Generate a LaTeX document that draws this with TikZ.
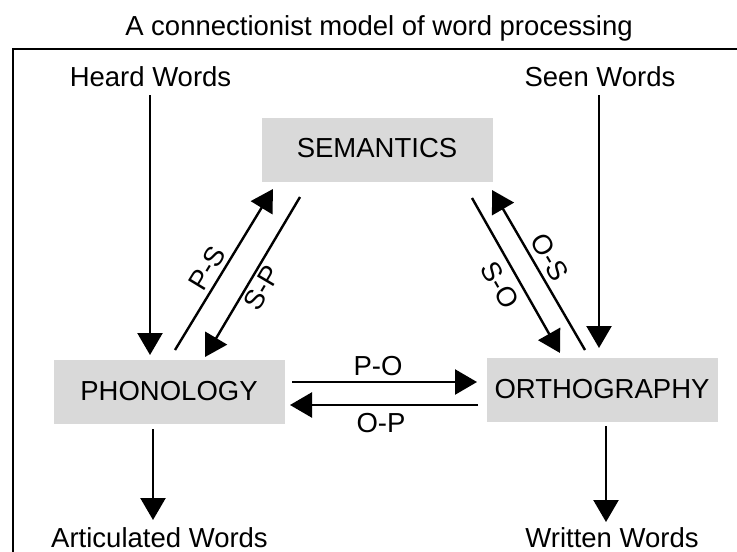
\documentclass[tikz,border=0pt]{standalone}
\usepackage{fontspec}
\setmainfont{Liberation Sans}
\usetikzlibrary{arrows.meta}
\definecolor{boxgray}{HTML}{D9D9D9}
\begin{document}
\begin{tikzpicture}[x=1pt,y=-1pt,
  txt/.style={font=\fontsize{27.5}{30}\selectfont, inner sep=0pt},
  lbl/.style={txt, anchor=base},
  box/.style={txt, fill=boxgray, minimum width=231pt, minimum height=64pt,
    text height=20pt, text depth=4pt},
  arr/.style={line width=2.4pt, -{Triangle[length=22pt,width=25pt]}},
  frame/.style={line width=2.4pt}]
\useasboundingbox (0,0) rectangle (737,552);
\fill[white] (0,0) rectangle (737,552);
% frame (left and top edges, cropped)
\draw[frame] (13,560) -- (13,49) -- (745,49);
% title
\node[lbl] (title) at (379,35) {A connectionist model of word processing};
% boxes
\node[box] (sem) at (377,149.5) {SEMANTICS};
\node[box] (pho) at (169,392) {PHONOLOGY};
\node[box] (ort) at (602,390) {ORTHOGRAPHY};
% outer labels
\node[lbl] (heard) at (150.5,86) {Heard Words};
\node[lbl] (seen) at (600,86) {Seen Words};
\node[lbl] (artic) at (159.5,547) {Articulated Words};
\node[lbl] (written) at (612,547) {Written Words};
% connector end points
\coordinate (hwA) at (150,95);  \coordinate (hwB) at (150,355);
\coordinate (swA) at (599,95);  \coordinate (swB) at (599,348);
\coordinate (psA) at (175,350); \coordinate (psB) at (273,189);
\coordinate (spA) at (300,197); \coordinate (spB) at (205,357);
\coordinate (soA) at (472,198); \coordinate (soB) at (560,353);
\coordinate (osA) at (585,350); \coordinate (osB) at (492,190);
\coordinate (poA) at (292,382); \coordinate (poB) at (477,382);
\coordinate (opA) at (478,405); \coordinate (opB) at (290,405);
\coordinate (paA) at (153,429); \coordinate (paB) at (153,520);
\coordinate (owA) at (606,426); \coordinate (owB) at (606,522);
% connectors
\draw[arr] (hwA) -- (hwB);
\draw[arr] (swA) -- (swB);
\draw[arr] (psA) -- (psB);
\draw[arr] (spA) -- (spB);
\draw[arr] (soA) -- (soB);
\draw[arr] (osA) -- (osB);
\draw[arr] (poA) -- (poB);
\draw[arr] (opA) -- (opB);
\draw[arr] (paA) -- (paB);
\draw[arr] (owA) -- (owB);
% connector labels
\node[txt, rotate=58.7] (lps) at (207,268) {P-S};
\node[txt, rotate=59.3] (lsp) at (262,288) {S-P};
\node[txt, rotate=-60.4] (lso) at (500,285) {S-O};
\node[txt, rotate=-59.8] (los) at (550,257) {O-S};
\node[lbl] (lpo) at (378,375) {P-O};
\node[lbl] (lop) at (381,432) {O-P};
\end{tikzpicture}
\end{document}
